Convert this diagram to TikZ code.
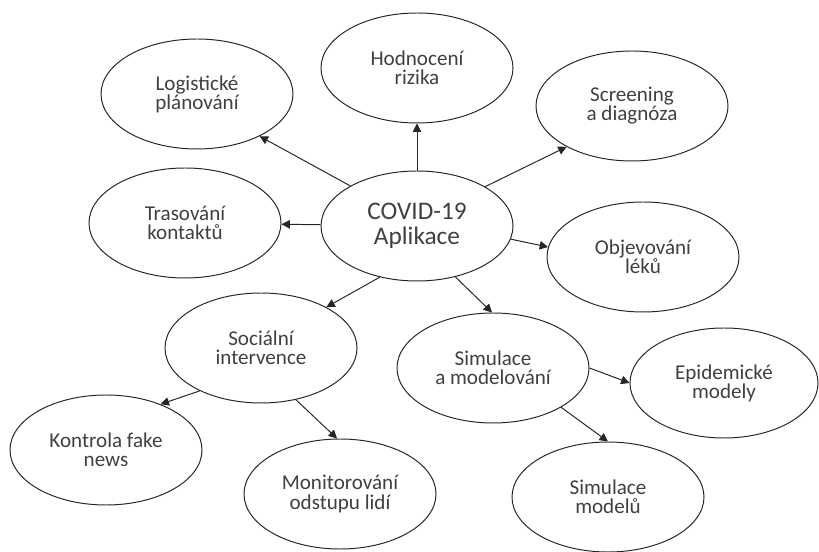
\documentclass[tikz,border=0pt]{standalone}
\usepackage{fontspec}
\setmainfont{Carlito}
\usetikzlibrary{shapes.geometric,arrows.meta}

\begin{document}
\begin{tikzpicture}[
    bubble/.style={ellipse,draw=black!85,line width=0.7pt,minimum width=4.8cm,minimum height=2.75cm,inner sep=0pt,align=center,text=black!75,font=\fontsize{15}{13.6}\selectfont},
    hub/.style={bubble,font=\fontsize{18}{17.4}\selectfont},
    arr/.style={-{Triangle[length=6pt,width=6pt]},line width=0.7pt,draw=black!85}
  ]
			\useasboundingbox (0,0) rectangle (20.475,13.775);
			% centre
			\node[hub] (covid) at (10.425,8.125) {COVID-19\\Aplikace};
			% first ring
			\node[bubble] (hodnoceni) at (10.425,12.075) {Hodnocení\\rizika};
			\node[bubble] (logisticke) at (4.925,11.425) {Logistické\\plánování};
			\node[bubble] (screening) at (15.8,11.125) {Screening\\a diagnóza};
			\node[bubble] (trasovani) at (4.625,8.2) {Trasování\\kontaktů};
			\node[bubble] (objevovani) at (16.075,7.35) {Objevování\\léků};
			\node[bubble] (socialni) at (6.525,5.075) {Sociální\\intervence};
			\node[bubble] (simulace) at (12.325,4.575) {Simulace\\a modelování};
			% second ring
			\node[bubble] (kontrola) at (2.65,2.525) {Kontrola fake\\news};
			\node[bubble] (monitor) at (8.5,1.425) {Monitorování\\odstupu lidí};
			\node[bubble,minimum width=4.7cm] (epidemicke) at (18.1,4.2) {Epidemické\\modely};
			\node[bubble] (modely) at (15.2,1.35) {Simulace\\modelů};
			% arrows
			\draw[arr] (covid) -- (hodnoceni);
			\draw[arr] (covid.149) -- (logisticke.-34);
			\draw[arr] (covid.30) -- (screening.212);
			\draw[arr] (covid) -- (trasovani);
			\draw[arr] (covid.-8) -- (objevovani.174);
			\draw[arr] (covid.234) -- (socialni.32);
			\draw[arr] (covid.-53) -- (simulace.91);
			\draw[arr] (socialni.215) -- (kontrola.40);
			\draw[arr] (socialni.-56) -- (monitor.93);
			\draw[arr] (simulace.0) -- (epidemicke.180);
			\draw[arr] (simulace.-30) -- (modely.90);
		\end{tikzpicture}
\end{document}
